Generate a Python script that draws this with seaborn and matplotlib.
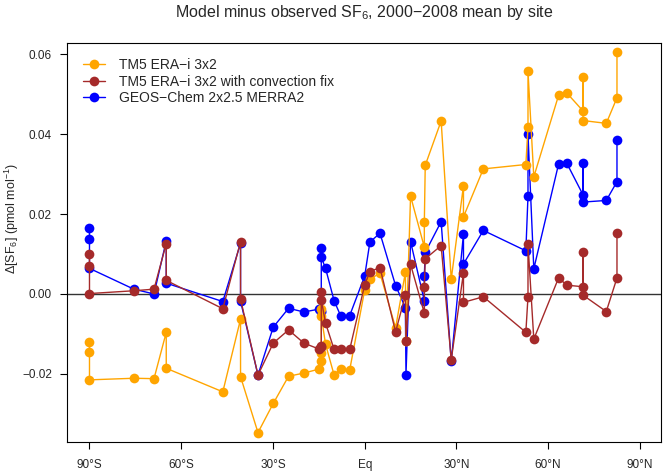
import numpy as np
import pandas as pd
import matplotlib
matplotlib.use("Agg")
import matplotlib.pyplot as plt
import seaborn as sns

# site latitudes (sorted), one entry per site
lat = [-90, -90, -90, -75.5, -68.9, -64.9, -64.9, -46.4, -40.6, -40.6,
       -34.9, -29.9, -24.9, -19.9, -14.9, -14.2, -14.2, -14.2, -14.2, -12.8,
       -10.0, -7.9, -4.9, 0.0, 1.7, 5.0, 10.1, 13.3, 13.5, 15.0,
       19.5, 19.5, 19.8, 25.0, 28.3, 32.3, 32.3, 38.8, 52.7, 53.4,
       53.4, 55.3, 63.4, 66.1, 71.4, 71.4, 71.4, 79.0, 82.5, 82.5]

# model minus observed SF6 (pmol/mol)
tm5 = [-0.0120, -0.0146, -0.0215, -0.0211, -0.0212, -0.0096, -0.0186, -0.0245, -0.0063, -0.0207,
       -0.0347, -0.0274, -0.0206, -0.0198, -0.0188, -0.0169, -0.0148, -0.0038, -0.0055, -0.0126,
       -0.0203, -0.0188, -0.0190, 0.0010, 0.0037, 0.0052, -0.0085, 0.0054, -0.0119, 0.0245,
       0.0117, 0.0179, 0.0322, 0.0433, 0.0037, 0.0271, 0.0193, 0.0313, 0.0324, 0.0417,
       0.0557, 0.0293, 0.0497, 0.0503, 0.0458, 0.0543, 0.0434, 0.0427, 0.0491, 0.0605]

tm5_fix = [0.0100, 0.0071, 0.0001, 0.0008, 0.0012, 0.0126, 0.0034, -0.0037, 0.0131, -0.0013,
           -0.0203, -0.0123, -0.0090, -0.0123, -0.0138, -0.0130, -0.0133, 0.0004, -0.0015, -0.0073,
           -0.0139, -0.0138, -0.0139, 0.0023, 0.0056, 0.0066, -0.0095, -0.0003, -0.0118, 0.0074,
           -0.0048, 0.0017, 0.0088, 0.0121, -0.0165, 0.0053, -0.0021, -0.0007, -0.0096, -0.0007,
           0.0125, -0.0113, 0.0040, 0.0022, 0.0018, 0.0104, -0.0003, -0.0044, 0.0040, 0.0152]

geos = [0.0164, 0.0138, 0.0064, 0.0012, 0.0000, 0.0133, 0.0027, -0.0019, 0.0127, -0.0018,
        -0.0203, -0.0083, -0.0036, -0.0045, -0.0038, -0.0045, -0.0043, 0.0114, 0.0092, 0.0064,
        -0.0017, -0.0054, -0.0054, 0.0045, 0.0130, 0.0152, 0.0021, -0.0034, -0.0202, 0.0131,
        -0.0017, 0.0046, 0.0104, 0.0181, -0.0169, 0.0150, 0.0075, 0.0159, 0.0108, 0.0245,
        0.0400, 0.0063, 0.0325, 0.0327, 0.0248, 0.0327, 0.0230, 0.0234, 0.0281, 0.0386]

names = ["TM5 ERA\u2212i 3x2", "TM5 ERA\u2212i 3x2 with convection fix", "GEOS\u2212Chem 2x2.5 MERRA2"]
colors = ["orange", "brown", "blue"]

x_ticks = [-90, -60, -30, 0, 30, 60, 90]
x_labels = ["90°S", "60°S", "30°S", "Eq", "30°N", "60°N", "90°N"]
y_ticks = [-0.02, 0.0, 0.02, 0.04, 0.06]
y_labels = ["\u22120.02", "0.00", "0.02", "0.04", "0.06"]

sns.set_style("white")
plt.rcParams['font.family'] = ['Liberation Sans', 'DejaVu Sans']
plt.rcParams['mathtext.fontset'] = 'custom'
plt.rcParams['mathtext.rm'] = 'Liberation Sans'
plt.rcParams['mathtext.it'] = 'Liberation Sans'

fig = plt.figure(figsize=(6.65, 4.73), dpi=100)
ax = fig.add_axes([0.101, 0.066, 0.893, 0.843])

ax.axhline(0, color="#333333", lw=1.0, zorder=1)

# blue first, brown on top (as in the original)
for vals, name, col in [(geos, names[2], colors[2]), (tm5, names[0], colors[0]), (tm5_fix, names[1], colors[1])]:
    df = pd.DataFrame({"lat": lat, "val": vals})
    sns.lineplot(data=df, x="lat", y="val", sort=False, estimator=None, color=col,
                 marker="o", markersize=7, markeredgewidth=0, lw=1.0, ax=ax, label=name)

h, l = ax.get_legend_handles_labels()
order = [l.index(n) for n in names]
ax.legend([h[i] for i in order], [l[i] for i in order], loc="upper left", frameon=False,
          fontsize=10, handlelength=1.6, handletextpad=0.95, labelspacing=0.2,
          borderaxespad=0, borderpad=0, bbox_to_anchor=(0.027, 0.963))

ax.set_xlim(-97.3, 96.9)
ax.set_ylim(-0.0370, 0.0628)
ax.set_xticks(x_ticks)
ax.set_xticklabels(x_labels)
ax.set_yticks(y_ticks)
ax.set_yticklabels(y_labels)
ax.tick_params(axis="both", direction="out", length=5, width=0.8, color="black",
               labelsize=8.5, bottom=True, left=True)
ax.tick_params(axis="x", pad=7.5)
ax.tick_params(axis="y", pad=6)
for s in ax.spines.values():
    s.set_color("black")
    s.set_linewidth(0.8)
ax.set_xlabel("")
ax.set_ylabel(r"$\Delta$[SF$_6$] (pmol mol$^{-1}$)", fontsize=9)
ax.yaxis.set_label_coords(-0.077, 0.56)
fig.text(0.547, 1 - 13 / 473, r"Model minus observed SF$_6$, 2000$-$2008 mean by site",
         ha="center", va="center", fontsize=11.5)

fig.savefig("out.png", dpi=100)
